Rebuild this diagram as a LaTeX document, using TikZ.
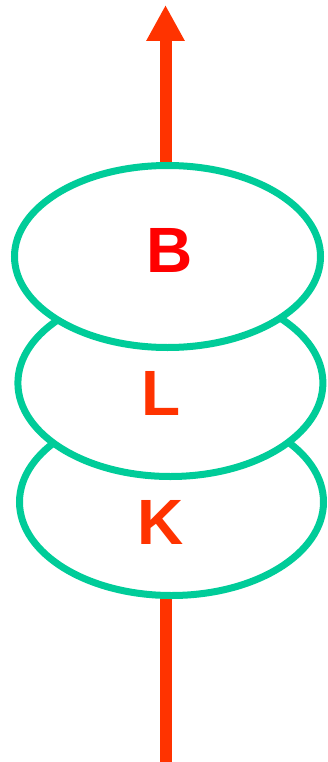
\documentclass[tikz,border=0pt]{standalone}
\usepackage{fontspec}
\setmainfont{Liberation Sans}
\usetikzlibrary{arrows.meta,shapes.geometric}
\definecolor{ringgreen}{HTML}{00CC99}
\definecolor{arrowred}{HTML}{FF3300}
\definecolor{labelred}{HTML}{FF0000}
\tikzset{
  ring/.style={ellipse, draw=ringgreen, line width=7pt, fill=white, inner sep=0pt, minimum width=#1},
  ringlabel/.style={font=\fontsize{64}{64}\selectfont\bfseries, inner sep=0pt},
  axis/.style={draw=arrowred, line width=12pt, -{Triangle[length=36pt,width=36pt]}}
}
\begin{document}
\begin{tikzpicture}[x=1pt,y=-1pt]
\useasboundingbox (0,0) rectangle (327,762);
\coordinate (bottom) at (165.5,762);
\coordinate (top) at (165.5,5);
\draw[axis] (bottom) -- (top);
\node[ring=304pt, minimum height=187pt] (K) at (171.5,502) {};
\node[ring=305pt, minimum height=187pt] (L) at (170.4,383) {};
\node[ring=306pt, minimum height=182pt] (B) at (167.5,256.5) {};
\node[ringlabel, text=labelred] (Bt) at (170,250) {B};
\node[ringlabel, text=arrowred] (Lt) at (161.5,393.6) {L};
\node[ringlabel, text=arrowred] (Kt) at (161,522.5) {K};
\end{tikzpicture}
\end{document}
